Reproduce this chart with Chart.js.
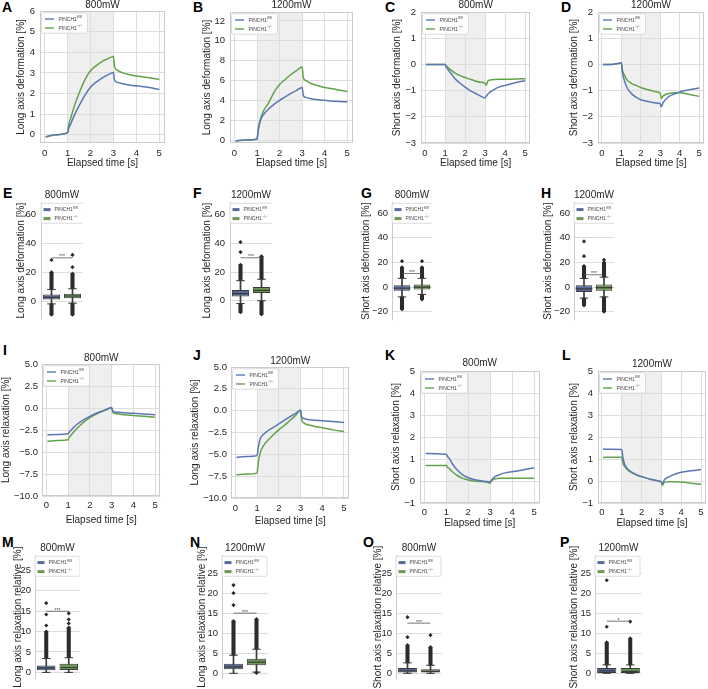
<!DOCTYPE html>
<html>
<head>
<meta charset="utf-8">
<script src="https://cdn.jsdelivr.net/npm/chart.js@4.4.1/dist/chart.umd.min.js"></script>
<style>
html, body { margin: 0; padding: 0; background: #fff; }
body { width: 708px; height: 689px; position: relative; overflow: hidden; }
canvas { position: absolute; }
.lab { position: absolute; font: bold 14px "Liberation Sans", Arial, sans-serif; color: #000; line-height: 1; }
</style>
</head>
<body>
<div class="lab" style="left:2px;top:0px">A</div>
<div class="lab" style="left:193px;top:0px">B</div>
<div class="lab" style="left:385px;top:0px">C</div>
<div class="lab" style="left:561px;top:0px">D</div>
<div class="lab" style="left:3px;top:186px">E</div>
<div class="lab" style="left:193px;top:186px">F</div>
<div class="lab" style="left:361px;top:186px">G</div>
<div class="lab" style="left:541px;top:186px">H</div>
<div class="lab" style="left:3px;top:343px">I</div>
<div class="lab" style="left:193px;top:348px">J</div>
<div class="lab" style="left:385px;top:348px">K</div>
<div class="lab" style="left:562px;top:348px">L</div>
<div class="lab" style="left:2px;top:535px">M</div>
<div class="lab" style="left:190px;top:535px">N</div>
<div class="lab" style="left:363px;top:535px">O</div>
<div class="lab" style="left:560px;top:535px">P</div>
<script>
// elapsed time [s] of the averaged traces
const T = [0.05, 0.5, 1.0, 1.05, 1.15, 1.3, 1.5, 1.75, 2.0, 2.25, 2.5, 2.75, 3.0, 3.05, 3.15, 3.4, 3.75, 4.0, 4.5, 5.0];
const X_TICKS = [0, 1, 2, 3, 4, 5];

// A / B: long axis deformation [%]
const A_fl = [-0.1, 0.0, 0.1, 0.3, 0.55, 0.95, 1.4, 1.9, 2.3, 2.55, 2.75, 2.9, 3.02, 2.65, 2.55, 2.48, 2.4, 2.37, 2.3, 2.2];
const A_ko = [-0.1, 0.0, 0.1, 0.45, 0.85, 1.4, 2.0, 2.65, 3.1, 3.35, 3.55, 3.68, 3.8, 3.3, 3.15, 3.0, 2.9, 2.85, 2.78, 2.68];
const B_fl = [-0.1, 0.0, 0.1, 1.0, 2.0, 2.6, 3.1, 3.6, 4.0, 4.35, 4.7, 5.0, 5.3, 4.5, 4.3, 4.15, 4.05, 4.0, 3.9, 3.85];
const B_ko = [-0.1, 0.0, 0.1, 1.0, 2.1, 3.0, 3.7, 4.8, 5.6, 6.1, 6.6, 7.0, 7.35, 6.3, 6.0, 5.7, 5.45, 5.3, 5.1, 4.9];
// C / D: short axis deformation [%]
const C_fl = [0, 0, 0, -0.08, -0.2, -0.35, -0.55, -0.72, -0.87, -1.0, -1.1, -1.2, -1.28, -1.22, -1.12, -0.98, -0.85, -0.8, -0.7, -0.62];
const C_ko = [0, 0, 0, -0.05, -0.12, -0.22, -0.33, -0.43, -0.5, -0.57, -0.63, -0.68, -0.72, -0.8, -0.62, -0.58, -0.57, -0.57, -0.56, -0.55];
const D_fl = [0, 0, 0.05, -0.3, -0.6, -0.9, -1.1, -1.25, -1.35, -1.4, -1.44, -1.47, -1.5, -1.62, -1.45, -1.25, -1.12, -1.05, -0.97, -0.9];
const D_ko = [0, 0, 0.05, -0.2, -0.4, -0.6, -0.72, -0.8, -0.88, -0.94, -0.99, -1.04, -1.1, -1.3, -1.2, -1.12, -1.08, -1.08, -1.15, -1.22];
// I / J: long axis relaxation [%]
const I_fl = [-3.05, -3.0, -2.93, -2.75, -2.5, -2.1, -1.7, -1.3, -0.95, -0.65, -0.4, -0.18, 0.05, -0.3, -0.45, -0.5, -0.57, -0.6, -0.68, -0.78];
const I_ko = [-3.8, -3.7, -3.6, -3.35, -3.05, -2.6, -2.1, -1.55, -1.1, -0.75, -0.45, -0.2, 0.02, -0.45, -0.6, -0.7, -0.8, -0.85, -0.95, -1.05];
const J_fl = [-5.35, -5.25, -5.15, -4.3, -3.2, -2.7, -2.3, -1.9, -1.5, -1.1, -0.7, -0.35, 0.05, -0.7, -0.9, -1.05, -1.12, -1.15, -1.25, -1.35];
const J_ko = [-7.35, -7.25, -7.15, -6.0, -4.8, -4.0, -3.4, -2.75, -2.2, -1.7, -1.15, -0.6, 0.05, -1.0, -1.4, -1.65, -1.85, -1.95, -2.2, -2.4];
// K / L: short axis relaxation [%]
const K_fl = [1.25, 1.24, 1.22, 1.12, 1.0, 0.75, 0.5, 0.28, 0.15, 0.07, 0.02, -0.01, -0.05, 0.02, 0.15, 0.28, 0.38, 0.42, 0.5, 0.6];
const K_ko = [0.7, 0.7, 0.7, 0.63, 0.55, 0.4, 0.25, 0.12, 0.05, 0.0, -0.02, -0.03, -0.1, 0.0, 0.08, 0.12, 0.13, 0.13, 0.13, 0.13];
const L_fl = [1.45, 1.44, 1.43, 1.1, 0.75, 0.55, 0.4, 0.28, 0.2, 0.13, 0.07, 0.02, -0.05, -0.15, 0.05, 0.2, 0.33, 0.4, 0.47, 0.52];
const L_ko = [1.07, 1.08, 1.08, 0.85, 0.65, 0.5, 0.38, 0.27, 0.2, 0.13, 0.07, 0.02, -0.05, -0.2, -0.05, -0.03, -0.03, -0.05, -0.1, -0.15];

// box plots: [lowest flier, lower whisker, Q1, median, Q3, upper whisker, highest dense flier]
const E_fl = [-9.5, -2, 1, 2.5, 4.5, 8, 20],   E_fl_out = [28.5];
const E_ko = [-9.5, -1.5, 2, 3.5, 5, 8.5, 19], E_ko_out = [23.5, 32];
const F_fl = [-8, -2, 3, 5, 7.5, 14, 25],      F_fl_out = [34, 41];
const F_ko = [-9.5, 0, 5.3, 7.2, 9.6, 15, 31], F_ko_out = [];
const G_fl = [-18, -8, -3, -1, 1.5, 7, 16],    G_fl_out = [21];
const G_ko = [-10, -6, -2, 0, 2, 7, 16],       G_ko_out = [21];
const H_fl = [-15, -9, -4, -1.5, 1.5, 7, 17],  H_fl_out = [25, 37];
const H_ko = [-20, -8, -3, -0.5, 2, 8, 20],    H_ko_out = [22];
const M_fl = [0, 0, 0.55, 1.1, 1.7, 3.4, 10],  M_fl_out = [11.5, 14.2, 17];
const M_ko = [0, 0, 0.6, 1.2, 2.1, 3.6, 11],   M_ko_out = [12, 13, 14.5];
const N_fl = [0, 0, 1.0, 1.6, 2.4, 4.5, 13],   N_fl_out = [17, 20, 22];
const N_ko = [0.1, 0.3, 2.0, 2.8, 3.6, 6, 13.5], N_ko_out = [];
const O_fl = [0, 0, 0.2, 0.6, 1.3, 2.6, 7],    O_fl_out = [9, 14];
const O_ko = [0, 0, 0.2, 0.5, 1.0, 2.0, 6.5],  O_ko_out = [9.5];
const P_fl = [0, 0, 0.1, 0.6, 1.3, 2.1, 7.7],  P_fl_out = [11.6, 23.2];
const P_ko = [0, 0, 0.1, 0.5, 1.3, 2.1, 8.7],  P_ko_out = [12.9];
// significance brackets for E, F, G, H, M, N, O, P
const SIG_Y = [30, 30, 11, 10, 15, 15, 12.5, 13];
const SIG_TEXT = ['***', '***', '***', '***', '***', '***', '***', '*'];

const GROUPS = ['PINCH1fl/fl', 'PINCH1-/-'];
const SUPS = ['fl/fl', '\u2212/\u2212'];

const BLUE = '#5a77b4', GREEN = '#61a34a';
const BOX_B = '#566b9b', BOX_G = '#6a9a52';
const EDGE = '#3a3a3a', FLIER = '#2b2b2b';
const GRID = '#dddddd', FRAME = '#cccccc', SHADE = '#efefef', INK = '#262626';
const FONT = '"Liberation Sans", Arial, sans-serif';

Chart.defaults.font.family = FONT;
Chart.defaults.color = INK;

function fmt(v, dec) {
  return (v < 0 ? '\u2212' : '') + Math.abs(v).toFixed(dec);
}

const shade = {
  id: 'shade',
  beforeDraw(c, args, o) {
    if (o.from == null) return;
    const x = c.scales.x, a = c.chartArea, ctx = c.ctx;
    const x0 = x.getPixelForValue(o.from), x1 = x.getPixelForValue(o.to);
    ctx.save();
    ctx.fillStyle = SHADE;
    ctx.fillRect(x0, a.top, x1 - x0, a.bottom - a.top);
    ctx.restore();
  }
};

const frame = {
  id: 'frame',
  beforeDatasetsDraw(c, args, o) {
    const a = c.chartArea, ctx = c.ctx;
    ctx.save();
    ctx.strokeStyle = FRAME;
    ctx.lineWidth = 1;
    if (o.full) {
      ctx.strokeRect(Math.round(a.left) + 0.5, Math.round(a.top) + 0.5,
        Math.round(a.right - a.left) - 1, Math.round(a.bottom - a.top) - 1);
    } else {
      ctx.beginPath();
      ctx.moveTo(Math.round(a.left) + 0.5, a.top);
      ctx.lineTo(Math.round(a.left) + 0.5, a.bottom);
      ctx.stroke();
    }
    ctx.restore();
  }
};

const innerLegend = {
  id: 'innerLegend',
  afterDraw(c, args, o) {
    const a = c.chartArea, ctx = c.ctx;
    const x = a.left + o.dx, y = a.top + o.dy;
    ctx.save();
    ctx.fillStyle = 'rgba(255,255,255,0.85)';
    ctx.strokeStyle = '#d4d4d4';
    ctx.lineWidth = 0.8;
    ctx.beginPath();
    ctx.roundRect(x, y, o.w, o.h, 2);
    ctx.fill();
    ctx.stroke();
    const cols = o.box ? [BOX_B, BOX_G] : [BLUE, GREEN];
    [6.3, 15.3].forEach((ry, i) => {
      const yy = y + ry;
      if (o.box) {
        ctx.fillStyle = cols[i];
        ctx.fillRect(x + 2.5, yy - 1.5, 7, 3);
      } else {
        ctx.strokeStyle = cols[i];
        ctx.lineWidth = 1.4;
        ctx.beginPath();
        ctx.moveTo(x + 3.5, yy);
        ctx.lineTo(x + 12.5, yy);
        ctx.stroke();
      }
      const tx = x + (o.box ? 13.5 : 17);
      ctx.fillStyle = '#444';
      ctx.textBaseline = 'middle';
      ctx.font = '5px ' + FONT;
      ctx.fillText('PINCH1', tx, yy + 0.3);
      const w = ctx.measureText('PINCH1').width;
      ctx.font = '3.6px ' + FONT;
      ctx.fillText(SUPS[i], tx + w + 0.3, yy - 1.6);
    });
    ctx.restore();
  }
};

const sigText = {
  id: 'sigText',
  afterDatasetsDraw(c, args, o) {
    if (o.y == null) return;
    const xs = c.scales.x, ys = c.scales.y, ctx = c.ctx;
    const xm = (xs.getPixelForValue(0) + xs.getPixelForValue(1)) / 2;
    ctx.save();
    ctx.fillStyle = '#444';
    ctx.font = '5px ' + FONT;
    ctx.textAlign = 'center';
    ctx.textBaseline = 'bottom';
    ctx.fillText(o.text, xm, ys.getPixelForValue(o.y) + 1.5);
    ctx.restore();
  }
};

function place(g) {
  const cv = document.createElement('canvas');
  const left = Math.round(g.cx), top = Math.round(g.cy);
  cv.width = Math.round(g.r) - left;
  cv.height = Math.round(g.b + (g.axisH || 0)) - top;
  cv.style.left = left + 'px';
  cv.style.top = top + 'px';
  document.body.appendChild(cv);
  return { cv, left, top };
}

function titleOpts(text, g, top) {
  return {
    display: true, text, fullSize: false, color: INK,
    font: { size: 10, weight: 'normal' },
    padding: { top: 0, bottom: Math.max(0, g.t - top - 12) }
  };
}

function yScale(g, left, label, ticks, dec) {
  return {
    position: 'left', min: g.yMin, max: g.yMax,
    afterBuildTicks: s => { s.ticks = ticks.map(v => ({ value: v })); },
    afterFit: s => { s.width = Math.round(g.l) - left; },
    grid: { color: GRID, drawTicks: false },
    border: { display: false },
    ticks: { padding: g.yp || 5, autoSkip: false, font: { size: 9.5 }, color: INK, callback: v => fmt(v, dec) },
    title: { display: true, text: label, font: { size: 10 }, padding: 0, color: INK }
  };
}

function lineChart(g, title, label, yTicks, dec, fl, ko) {
  const { cv, left, top } = place(g);
  const series = (arr, col) => ({
    data: T.map((t, i) => ({ x: t, y: arr[i] })),
    borderColor: col, borderWidth: 1.5, pointRadius: 0,
    cubicInterpolationMode: 'monotone', fill: false
  });
  new Chart(cv, {
    type: 'line',
    data: { datasets: [series(fl, BLUE), series(ko, GREEN)] },
    options: {
      responsive: false, animation: false, events: [],
      layout: { padding: 0, autoPadding: false },
      plugins: {
        legend: { display: false }, tooltip: { enabled: false },
        title: titleOpts(title, g, top),
        shade: { from: 1, to: 3 },
        frame: { full: true },
        innerLegend: { dx: 1.5, dy: 1.7, w: 46, h: 20.5, box: false },
        sigText: {}
      },
      scales: {
        x: {
          type: 'linear', min: -0.2, max: 5.25,
          afterBuildTicks: s => { s.ticks = X_TICKS.map(v => ({ value: v })); },
          afterFit: s => { s.height = g.axisH; },
          grid: { color: GRID, drawTicks: false },
          border: { display: false },
          ticks: { padding: g.tp, autoSkip: false, maxRotation: 0, font: { size: 9.5 }, color: INK, callback: v => fmt(v, 0) },
          title: { display: true, text: 'Elapsed time [s]', font: { size: 10 }, padding: 0, color: INK }
        },
        y: yScale(g, left, label, yTicks, dec)
      }
    },
    plugins: [shade, frame, innerLegend, sigText]
  });
}

function boxChart(g, title, label, yTicks, fl, ko, flOut, koOut, k) {
  const { cv, left, top } = place(g);
  const pts = (vals, idx) => vals.map(v => ({ x: GROUPS[idx], y: v }));
  const fliers = pts(flOut.concat(fl[0] < fl[1] ? [fl[0]] : [], fl[6] > fl[5] ? [fl[6]] : []), 0)
    .concat(pts(koOut.concat(ko[0] < ko[1] ? [ko[0]] : [], ko[6] > ko[5] ? [ko[6]] : []), 1));
  new Chart(cv, {
    type: 'bar',
    data: {
      labels: GROUPS,
      datasets: [
        { type: 'bar', data: [[fl[0], fl[1]], [ko[0], ko[1]]], barThickness: 3.4, backgroundColor: FLIER, grouped: false, order: 5 },
        { type: 'bar', data: [[fl[5], fl[6]], [ko[5], ko[6]]], barThickness: 3.4, backgroundColor: FLIER, grouped: false, order: 5 },
        { type: 'bar', data: [[fl[1], fl[5]], [ko[1], ko[5]]], barThickness: 1, backgroundColor: EDGE, grouped: false, order: 4 },
        { type: 'bar', data: [[fl[2], fl[4]], [ko[2], ko[4]]], barPercentage: 0.82, categoryPercentage: 1,
          backgroundColor: [BOX_B, BOX_G], borderColor: EDGE, borderWidth: 1, borderSkipped: false, grouped: false, order: 3 },
        { type: 'line', data: [fl[3], ko[3]], showLine: false, pointStyle: 'line', pointRadius: 8.4,
          pointBorderColor: EDGE, pointBorderWidth: 1.2, order: 2 },
        { type: 'line', data: pts([fl[1], fl[5]], 0).concat(pts([ko[1], ko[5]], 1)), showLine: false,
          pointStyle: 'line', pointRadius: 4.3, pointBorderColor: EDGE, pointBorderWidth: 1, order: 2 },
        { type: 'line', data: fliers, showLine: false, pointStyle: 'rectRot', pointRadius: 2.1,
          pointBackgroundColor: FLIER, pointBorderWidth: 0, order: 1 },
        { type: 'line', data: [SIG_Y[k], SIG_Y[k]], borderColor: '#555', borderWidth: 0.8, pointRadius: 0, order: 0 }
      ]
    },
    options: {
      responsive: false, animation: false, events: [],
      layout: { padding: 0, autoPadding: false },
      plugins: {
        legend: { display: false }, tooltip: { enabled: false },
        title: titleOpts(title, g, top),
        shade: {},
        frame: { full: false },
        innerLegend: { dx: 0, dy: 1.3, w: 45, h: 20, box: true },
        sigText: { y: SIG_Y[k], text: SIG_TEXT[k] }
      },
      scales: {
        x: { type: 'category', display: false, offset: true, grid: { display: false } },
        y: yScale(g, left, label, yTicks, 0)
      }
    },
    plugins: [shade, frame, innerLegend, sigText]
  });
}

const LD = 'Long axis deformation [%]', SD = 'Short axis deformation [%]';
const LR = 'Long axis relaxation [%]', SR = 'Short axis relaxation [%]';
const LRR = 'Long axis relaxation relative [%]', SRR = 'Short axis relaxation relative [%]';

// row 1
lineChart({ cx: 15, cy: -1, l: 40, r: 167, t: 11, b: 143, axisH: 26, tp: 5, yMin: -0.4, yMax: 6 },
  '800mW', LD, [0, 1, 2, 3, 4, 5, 6], 0, A_fl, A_ko);
lineChart({ cx: 201, cy: -1, l: 230, r: 355, t: 12, b: 143, axisH: 26, tp: 5, yMin: -0.3, yMax: 12.9 },
  '1200mW', LD, [0, 2, 4, 6, 8, 10, 12], 0, B_fl, B_ko);
lineChart({ cx: 391, cy: -1, l: 421, r: 533, t: 12, b: 143, axisH: 26, tp: 5, yMin: -3, yMax: 2 },
  '800mW', SD, [-3, -2, -1, 0, 1, 2], 0, C_fl, C_ko);
lineChart({ cx: 568, cy: -1, l: 598, r: 707, t: 12, b: 143, axisH: 26, tp: 5, yMin: -3, yMax: 2 },
  '1200mW', SD, [-3, -2, -1, 0, 1, 2], 0, D_fl, D_ko);

// row 2
boxChart({ cx: 15, cy: 189, l: 41, r: 83, t: 202, b: 330, yMin: -12.7, yMax: 68.8 },
  '800mW', LD, [0, 20, 40, 60], E_fl, E_ko, E_fl_out, E_ko_out, 0);
boxChart({ cx: 201, cy: 189, l: 230, r: 272, t: 202, b: 330, yMin: -13, yMax: 69 },
  '1200mW', LD, [0, 20, 40, 60], F_fl, F_ko, F_fl_out, F_ko_out, 1);
boxChart({ cx: 360, cy: 189, l: 392, r: 432, t: 202, b: 330, yMin: -27, yMax: 69, yp: 4 },
  '800mW', SD, [-20, 0, 20, 40, 60], G_fl, G_ko, G_fl_out, G_ko_out, 2);
boxChart({ cx: 542, cy: 189, l: 574, r: 614, t: 202, b: 330, yMin: -27, yMax: 69, yp: 4 },
  '1200mW', SD, [-20, 0, 20, 40, 60], H_fl, H_ko, H_fl_out, H_ko_out, 3);

// row 3
lineChart({ cx: 0, cy: 352, l: 42, r: 161, t: 364, b: 496, axisH: 30, tp: 3.3, yp: 4, yMin: -10, yMax: 5 },
  '800mW', LR, [-10, -7.5, -5, -2.5, 0, 2.5, 5], 1, I_fl, I_ko);
lineChart({ cx: 189, cy: 355, l: 231, r: 351, t: 367, b: 498, axisH: 29, tp: 4.3, yp: 4, yMin: -10, yMax: 5 },
  '1200mW', LR, [-10, -7.5, -5, -2.5, 0, 2.5, 5], 1, J_fl, J_ko);
lineChart({ cx: 390, cy: 357, l: 420, r: 540, t: 371, b: 503, axisH: 26, tp: 3.3, yMin: -1, yMax: 5 },
  '800mW', SR, [-1, 0, 1, 2, 3, 4, 5], 0, K_fl, K_ko);
lineChart({ cx: 568, cy: 358, l: 598, r: 707, t: 371, b: 503, axisH: 26, tp: 3.3, yMin: -1, yMax: 5 },
  '1200mW', SR, [-1, 0, 1, 2, 3, 4, 5], 0, L_fl, L_ko);

// row 4
boxChart({ cx: 12, cy: 542, l: 35, r: 80, t: 555, b: 689, yMin: -1.7, yMax: 28.8, yp: 4 },
  '800mW', LRR, [0, 5, 10, 15, 20, 25], M_fl, M_ko, M_fl_out, M_ko_out, 4);
boxChart({ cx: 196, cy: 542, l: 222, r: 268, t: 555, b: 689, yMin: -1.5, yMax: 29.5, yp: 4 },
  '1200mW', LRR, [0, 5, 10, 15, 20, 25], N_fl, N_ko, N_fl_out, N_ko_out, 5);
boxChart({ cx: 372, cy: 542, l: 396, r: 442, t: 555, b: 689, yMin: -1.5, yMax: 29.5, yp: 4 },
  '800mW', SRR, [0, 5, 10, 15, 20, 25], O_fl, O_ko, O_fl_out, O_ko_out, 6);
boxChart({ cx: 568, cy: 542, l: 595, r: 642, t: 555, b: 689, yMin: -1.5, yMax: 29.5, yp: 4 },
  '1200mW', SRR, [0, 5, 10, 15, 20, 25], P_fl, P_ko, P_fl_out, P_ko_out, 7);
</script>
</body>
</html>
